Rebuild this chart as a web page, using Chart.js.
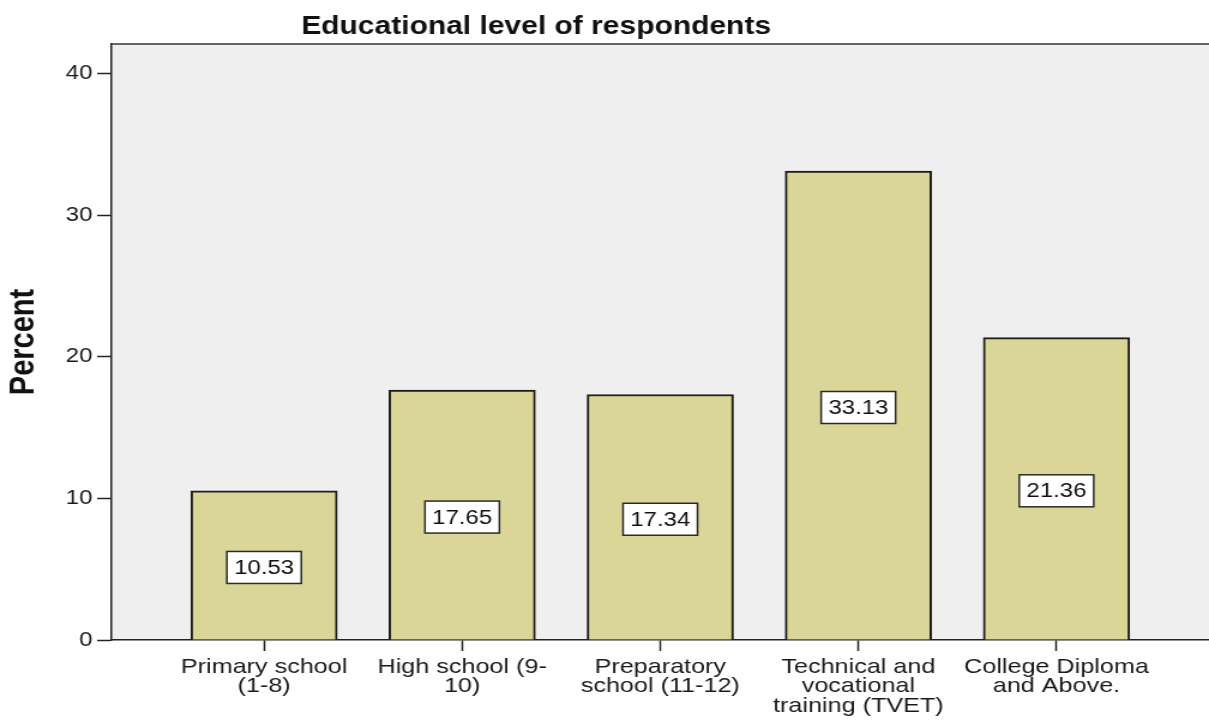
<!DOCTYPE html>
<html>
<head>
<meta charset="utf-8">
<title>Educational level of respondents</title>
<script src="https://cdn.jsdelivr.net/npm/chart.js@4.4.1/dist/chart.umd.min.js"></script>
<style>
  html, body { margin: 0; padding: 0; background: #ffffff; overflow: hidden; }
  /* the exported chart is a bit wider than its native aspect */
  #wrap { width: 1008px; height: 722px; transform: scaleX(1.1994); transform-origin: 0 0; }
</style>
</head>
<body>
<div id="wrap"><canvas id="eduChart" width="1008" height="722"></canvas></div>
<script>
const chartTitle = 'Educational level of respondents';
const categoryLabels = [
    ['Primary school', '(1-8)'],
    ['High school (9-', '10)'],
    ['Preparatory', 'school (11-12)'],
    ['Technical and', 'vocational', 'training (TVET)'],
    ['College Diploma', 'and Above.']
];
const percentValues = [10.53, 17.65, 17.34, 33.13, 21.36];
const yTicks = [0, 10, 20, 30, 40];

Chart.defaults.font.family = "'Liberation Sans', Arial, sans-serif";
Chart.defaults.color = '#1a1a1a';

// plot background, top frame line and the chart heading
const framePlugin = {
    id: 'frame',
    beforeDraw(chart) {
        const { ctx, chartArea: a } = chart;
        ctx.save();
        ctx.fillStyle = '#efefef';
        ctx.fillRect(a.left, a.top, a.right - a.left, a.bottom - a.top);
        ctx.restore();
    },
    afterDraw(chart) {
        const { ctx, chartArea: a } = chart;
        ctx.save();
        ctx.strokeStyle = '#333333';
        ctx.lineWidth = 1.5;
        ctx.beginPath();
        ctx.moveTo(a.left, a.top);
        ctx.lineTo(a.right, a.top);
        ctx.stroke();

        ctx.fillStyle = '#111111';
        ctx.font = "bold 25px 'Liberation Sans', Arial, sans-serif";
        ctx.textAlign = 'center';
        ctx.textBaseline = 'alphabetic';
        ctx.fillText(chartTitle, 447, 34);
        ctx.restore();
    }
};

// boxed value labels in the middle of each bar
const valueBoxPlugin = {
    id: 'valueBoxes',
    afterDatasetsDraw(chart) {
        const { ctx, scales } = chart;
        const meta = chart.getDatasetMeta(0);
        ctx.save();
        ctx.font = "20px 'Liberation Sans', Arial, sans-serif";
        ctx.textAlign = 'center';
        ctx.textBaseline = 'middle';
        meta.data.forEach((bar, i) => {
            const v = percentValues[i];
            const txt = v.toFixed(2);
            const cx = bar.x;
            const cy = scales.y.getPixelForValue(v / 2) + 2;
            const w = ctx.measureText(txt).width + 12;
            const h = 32;
            ctx.fillStyle = '#ffffff';
            ctx.fillRect(cx - w / 2, cy - h / 2, w, h);
            ctx.strokeStyle = '#2a2a2a';
            ctx.lineWidth = 1.5;
            ctx.strokeRect(cx - w / 2, cy - h / 2, w, h);
            ctx.fillStyle = '#111111';
            ctx.fillText(txt, cx, cy + 1);
        });
        ctx.restore();
    }
};

new Chart(document.getElementById('eduChart').getContext('2d'), {
    type: 'bar',
    data: {
        datasets: [{
            label: 'Percent',
            data: percentValues.map((v, i) => ({ x: i, y: v })),
            backgroundColor: '#d9d698',
            borderColor: '#1e1e16',
            borderWidth: 2,
            borderSkipped: 'start',
            barThickness: 122
        }]
    },
    options: {
        responsive: false,
        devicePixelRatio: 1,
        animation: false,
        layout: { padding: { top: 44, right: 0, left: 0, bottom: 0 } },
        plugins: {
            legend: { display: false },
            tooltip: { enabled: false }
        },
        scales: {
            x: {
                type: 'linear',
                offset: false,
                min: -0.77,
                max: 4.77,
                afterBuildTicks: (scale) => {
                    scale.ticks = categoryLabels.map((_, i) => ({ value: i }));
                },
                afterFit: (scale) => { scale.height = 82; },
                ticks: {
                    autoSkip: false,
                    maxRotation: 0,
                    padding: 6,
                    color: '#1a1a1a',
                    font: { size: 21, lineHeight: 0.93 },
                    callback: (value) => categoryLabels[value]
                },
                grid: {
                    offset: false,
                    drawOnChartArea: false,
                    tickLength: 11,
                    tickColor: '#222222',
                    tickWidth: 1.5
                },
                border: { color: '#222222', width: 1.5 }
            },
            y: {
                min: 0,
                max: 42.1,
                afterBuildTicks: (scale) => {
                    scale.ticks = yTicks.map(v => ({ value: v }));
                },
                afterFit: (scale) => { scale.width = 93; },
                ticks: {
                    padding: 4,
                    color: '#1a1a1a',
                    font: { size: 20 }
                },
                grid: {
                    drawOnChartArea: false,
                    tickLength: 12,
                    tickColor: '#222222',
                    tickWidth: 1.5
                },
                border: { color: '#222222', width: 1.5 },
                title: {
                    display: true,
                    text: 'Percent',
                    color: '#111111',
                    font: { size: 29, weight: 'bold' },
                    padding: { top: 3, bottom: 0 }
                }
            }
        }
    },
    plugins: [framePlugin, valueBoxPlugin]
});
</script>
</body>
</html>
